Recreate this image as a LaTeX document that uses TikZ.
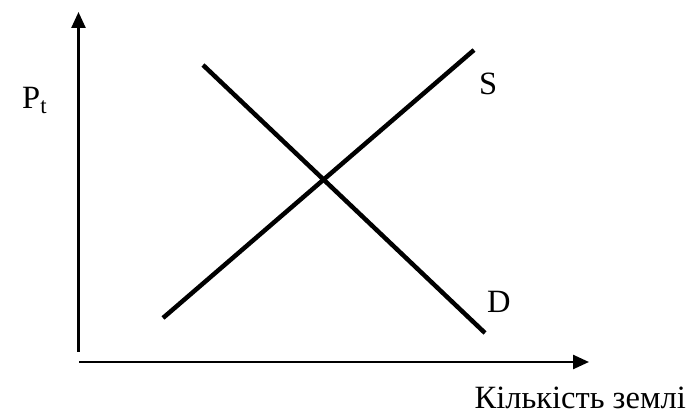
\documentclass[tikz,border=0pt]{standalone}
\usepackage{fontspec}
\setmainfont{Liberation Serif}
\usetikzlibrary{arrows.meta}
\begin{document}
\begin{tikzpicture}[x=1pt,y=-1pt,
  axis/.style={line width=2.5pt,-{Triangle[length=16pt,width=14pt]}},
  curve/.style={line width=4.5pt},
  lbl/.style={font=\fontsize{32.5}{38}\selectfont,inner sep=0pt}]
\useasboundingbox (0,0) rectangle (688,419);
\coordinate (yb) at (78.5,352);
\coordinate (yt) at (78.5,12);
\coordinate (xl) at (79,362);
\coordinate (xr) at (589,362);
\draw[axis] (yb) -- (yt);
\draw[axis] (xl) -- (xr);
\coordinate (s1) at (163,318);
\coordinate (s2) at (474,50);
\coordinate (d1) at (203,65);
\coordinate (d2) at (485,333);
\draw[curve] (s1) -- (s2);
\draw[curve] (d1) -- (d2);
\node[lbl,anchor=base west] (pt) at (22,109) {P\textsubscript{t}};
\node[lbl,anchor=base west] (S) at (479,95) {S};
\node[lbl,anchor=base west] (D) at (487,313) {D};
\node[lbl,anchor=base east] (q) at (686,409) {Кількість землі};
\end{tikzpicture}
\end{document}
